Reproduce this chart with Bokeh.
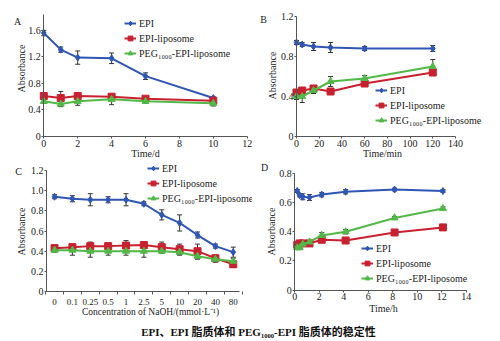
import math
from bokeh.plotting import figure
from bokeh.models import (ColumnDataSource, Whisker, TeeHead, Legend, LegendItem,
                          Label, FixedTicker, Range1d)
from bokeh.layouts import column, row
from bokeh.embed import file_html
from bokeh.resources import INLINE

# ---------------- data ----------------
A_time = [0, 1, 2, 4, 6, 10]
A_epi = [1.56, 1.31, 1.19, 1.18, 0.91, 0.58]
A_epi_err = [0.04, 0.04, 0.10, 0.08, 0.05, 0.02]
A_lip = [0.61, 0.58, 0.61, 0.60, 0.57, 0.54]
A_lip_err = [0.05, 0.10, 0.05, 0.03, 0.03, 0.03]
A_peg = [0.53, 0.49, 0.53, 0.56, 0.53, 0.50]
A_peg_err = [0.03, 0.04, 0.06, 0.08, 0.03, 0.04]

B_time = [0, 5, 15, 30, 60, 120]
B_epi = [0.94, 0.92, 0.90, 0.89, 0.88, 0.88]
B_epi_err = [0.02, 0.02, 0.04, 0.05, 0.02, 0.03]
B_lip = [0.44, 0.46, 0.48, 0.45, 0.53, 0.64]
B_lip_err = [0.03, 0.02, 0.02, 0.03, 0.02, 0.03]
B_peg = [0.40, 0.40, 0.46, 0.55, 0.58, 0.70]
B_peg_err = [0.03, 0.06, 0.03, 0.05, 0.03, 0.07]

C_conc = ["0", "0.1", "0.25", "0.5", "1", "2.5", "5", "10", "20", "40", "80"]
C_epi = [0.94, 0.92, 0.91, 0.91, 0.91, 0.87, 0.76, 0.68, 0.56, 0.45, 0.39]
C_epi_err = [0.02, 0.03, 0.06, 0.03, 0.06, 0.02, 0.05, 0.08, 0.03, 0.02, 0.05]
C_lip = [0.43, 0.44, 0.45, 0.45, 0.455, 0.46, 0.44, 0.42, 0.40, 0.33, 0.27]
C_lip_err = [0.03, 0.03, 0.04, 0.03, 0.05, 0.03, 0.05, 0.05, 0.07, 0.03, 0.03]
C_peg = [0.41, 0.41, 0.40, 0.40, 0.40, 0.40, 0.40, 0.39, 0.35, 0.32, 0.30]
C_peg_err = [0.02, 0.05, 0.06, 0.04, 0.04, 0.06, 0.02, 0.03, 0.03, 0.03, 0.03]

D_time = [0.2, 0.4, 0.65, 1.2, 2.2, 4.15, 8.15, 12.1]
D_epi = [0.68, 0.65, 0.64, 0.635, 0.655, 0.675, 0.69, 0.68]
D_epi_err = [0.01, 0.01, 0.02, 0.02, 0.015, 0.015, 0.01, 0.01]
D_lip = [0.31, 0.32, 0.32, 0.32, 0.345, 0.34, 0.395, 0.43]
D_lip_err = [0.01, 0.01, 0.01, 0.01, 0.01, 0.01, 0.02, 0.01]
D_peg = [0.29, 0.29, 0.315, 0.33, 0.375, 0.40, 0.495, 0.56]
D_peg_err = [0.01, 0.01, 0.015, 0.01, 0.02, 0.015, 0.01, 0.01]

SERIES = ["EPI", "EPI-liposome", "PEG\u2081\u2080\u2080\u2080-EPI-liposome"]
CAPTION = "EPI\u3001EPI 脂质体和 PEG\u2081\u2080\u2080\u2080-EPI 脂质体的稳定性"

# ---------------- style ----------------
SERIF = "Liberation Serif"
BLUE, RED, GREEN = "#2F56B4", "#C8202F", "#52B847"
AXC = "#555555"
ERRC = "#333333"


def panel(ox, oy, width, height, frame, xr, yr):
    """Figure whose frame fills it; axes are pinned so that data xr/yr map
    onto the page-pixel box `frame` = (left, top, right, bottom)."""
    l, t, r, b = frame
    xpp = (xr[1] - xr[0]) / (r - l)
    ypp = (yr[1] - yr[0]) / (b - t)
    x0 = xr[0] - (l - ox) * xpp
    x1 = xr[1] + (ox + width - r) * xpp
    y0 = yr[0] - (oy + height - b) * ypp
    y1 = yr[1] + (t - oy) * ypp
    p = figure(width=width, height=height, x_range=Range1d(x0, x1), y_range=Range1d(y0, y1),
               output_backend="svg", toolbar_location=None, min_border=0)
    p.grid.visible = False
    p.outline_line_color = None
    p.xaxis.fixed_location = yr[0]
    p.xaxis.bounds = xr
    p.yaxis.fixed_location = xr[0]
    p.yaxis.bounds = yr
    for ax in (p.xaxis[0], p.yaxis[0]):
        ax.axis_line_color = AXC
        ax.major_tick_line_color = AXC
        ax.minor_tick_line_color = AXC
        ax.major_tick_out = 2
        ax.major_tick_in = 0
        ax.minor_tick_out = 0
        ax.minor_tick_in = 0
        ax.major_label_standoff = 1
        ax.major_label_text_font = SERIF
        ax.major_label_text_font_size = "10px"
        ax.major_label_text_color = "#222222"

    def to_data(px, py):
        return x0 + (px - ox) * xpp, y1 - (py - oy) * ypp

    def loc(px, py):
        return (round(px - ox), round(oy + height - py))
    return p, to_data, loc


def series(p, x, y, err, color, marker, size):
    src = ColumnDataSource(dict(x=x, y=y,
                                up=[v + e for v, e in zip(y, err)],
                                lo=[v - e for v, e in zip(y, err)]))
    ln = p.line("x", "y", source=src, line_color=color, line_width=2)
    sc = p.scatter("x", "y", source=src, marker=marker, size=size,
                   fill_color=color, line_color=color)
    w = Whisker(source=src, base="x", upper="up", lower="lo", dimension="height",
                line_color=ERRC, line_width=1,
                upper_head=TeeHead(size=5, line_color=ERRC, line_width=1),
                lower_head=TeeHead(size=5, line_color=ERRC, line_width=1))
    p.add_layout(w)
    return [ln, sc]


def text(p, to_data, px, py, s, size="10px", angle=0.0, align="center"):
    x, y = to_data(px, py)
    p.add_layout(Label(x=x, y=y, text=s, text_font=SERIF, text_font_size=size,
                       text_align=align, text_baseline="middle", angle=angle,
                       text_color="#222222"))


def legend(p, items, loc):
    lg = Legend(items=[LegendItem(label=lab, renderers=r) for lab, r in items],
                location=loc, glyph_width=12, glyph_height=12, label_height=12,
                spacing=3, padding=0, margin=0, label_standoff=3,
                border_line_color=None, background_fill_alpha=0,
                label_text_font=SERIF, label_text_font_size="10px",
                label_text_color="#222222")
    p.add_layout(lg)


def draw(p, x, e, ee, l, le, g, ge):
    r1 = series(p, x, e, ee, BLUE, "diamond", 7)
    r2 = series(p, x, l, le, RED, "square", 7)
    r3 = series(p, x, g, ge, GREEN, "triangle", 7)
    return list(zip(SERIES, [r1, r2, r3]))


TOP_H, BOT_H, CAP_H = 160, 158, 23

# ---- A ----
pa, da, la = panel(0, 0, 252, TOP_H, (43.3, 14, 246.7, 136), (0, 12), (0, 1.84))
pa.xaxis.ticker = FixedTicker(ticks=[0, 2, 4, 6, 8, 10, 12])
pa.yaxis.ticker = FixedTicker(ticks=[0, 0.4, 0.8, 1.2, 1.6])
pa.yaxis.major_label_overrides = {0: "0"}
items = draw(pa, A_time, A_epi, A_epi_err, A_lip, A_lip_err, A_peg, A_peg_err)
legend(pa, items, la(124, 59))
text(pa, da, 145, 153, "Time/d")
text(pa, da, 21, 68, "Absorbance", angle=math.pi / 2)
text(pa, da, 17, 21, "A")

# ---- B ----
pb, db, lb = panel(252, 0, 248, TOP_H, (296, 16, 455, 136), (0, 140), (0, 1.2))
pb.xaxis.ticker = FixedTicker(ticks=[0, 20, 40, 60, 80, 100, 120, 140])
pb.yaxis.ticker = FixedTicker(ticks=[0, 0.4, 0.8, 1.2])
pb.yaxis.major_label_overrides = {0: "0"}
items = draw(pb, B_time, B_epi, B_epi_err, B_lip, B_lip_err, B_peg, B_peg_err)
legend(pb, items, lb(375, 126))
text(pb, db, 382, 153, "Time/min")
text(pb, db, 272, 75, "Absorbance", angle=math.pi / 2)
text(pb, db, 263, 19, "B")

# ---- C ----
pc, dc, lc = panel(0, TOP_H, 252, BOT_H, (46, 170, 239, 291), (-0.45, 10.35), (0, 1.2))
idx = list(range(len(C_conc)))
pc.xaxis.ticker = FixedTicker(ticks=idx, minor_ticks=[i + 0.5 for i in range(-1, len(C_conc))])
pc.xaxis.major_label_overrides = {i: c for i, c in zip(idx, C_conc)}
pc.xaxis.major_tick_out = 0
pc.xaxis.minor_tick_out = 3
pc.xaxis.major_label_standoff = 4
pc.xaxis.major_label_text_font_size = "9px"
pc.yaxis.ticker = FixedTicker(ticks=[0, 0.2, 0.4, 0.6, 0.8, 1.0, 1.2])
pc.yaxis.major_label_overrides = {0: "0", 1: "1.0"}
items = draw(pc, idx, C_epi, C_epi_err, C_lip, C_lip_err, C_peg, C_peg_err)
legend(pc, items, lc(147, 204))
text(pc, dc, 150, 311, "Concentration of NaOH/(mmol\u00b7L\u207b\u00b9)", size="9.5px")
text(pc, dc, 21, 231, "Absorbance", angle=math.pi / 2)
text(pc, dc, 18, 171, "C")

# ---- D ----
pd_, dd, ld = panel(252, TOP_H, 248, BOT_H, (294.3, 173, 465.7, 289.5), (0, 14), (0, 0.8))
pd_.xaxis.ticker = FixedTicker(ticks=[0, 2, 4, 6, 8, 10, 12, 14])
pd_.yaxis.ticker = FixedTicker(ticks=[0, 0.2, 0.4, 0.6, 0.8])
pd_.yaxis.major_label_overrides = {0: "0"}
items = draw(pd_, D_time, D_epi, D_epi_err, D_lip, D_lip_err, D_peg, D_peg_err)
legend(pd_, items, ld(361, 284))
text(pd_, dd, 383, 308, "Time/h")
text(pd_, dd, 271, 231, "Absorbance", angle=math.pi / 2)
text(pd_, dd, 264, 167, "D")

# ---- caption ----
cap = figure(width=500, height=CAP_H, x_range=Range1d(0, 500), y_range=Range1d(0, CAP_H),
             output_backend="svg", toolbar_location=None,
             x_axis_location=None, y_axis_location=None, min_border=0)
cap.grid.visible = False
cap.outline_line_color = None
cap.add_layout(Label(x=258, y=CAP_H - 13, text=CAPTION,
                     text_font="Liberation Serif, Noto Sans CJK SC", text_font_size="11px",
                     text_font_style="bold", text_align="center", text_baseline="middle",
                     text_color="#111111"))

layout = column(row(pa, pb), row(pc, pd_), cap)
open("out.html", "w").write(file_html(layout, INLINE))
